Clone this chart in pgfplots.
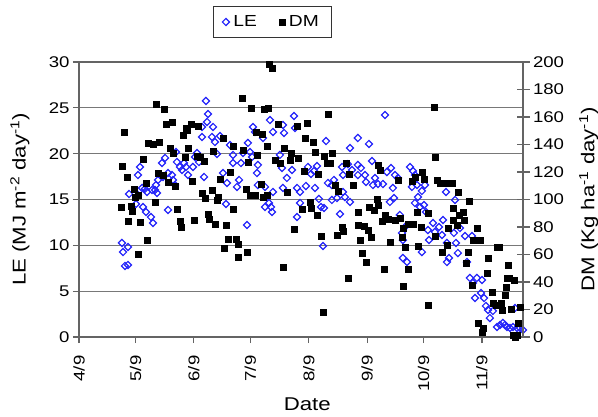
\documentclass[border=0pt]{standalone}
\usepackage{fontspec}
\setmainfont{Liberation Sans}[FakeStretch=1.2]
\usepackage{pgfplots}
\pgfplotsset{compat=1.18}
\definecolor{lecol}{RGB}{35,35,250}
\definecolor{gridc}{RGB}{120,120,120}
\definecolor{axc}{RGB}{100,100,100}
\begin{document}
\begin{tikzpicture}
\path[use as bounding box] (-79pt,-79pt) rectangle (519pt,337pt);
\begin{axis}[
  at={(0,0)}, anchor=south west,
  scale only axis, width=444pt, height=275pt,
  xmin=99, xmax=334.8, ymin=0, ymax=30,
  clip=false,
  axis line style={axc, line width=1.1pt},
  xtick={99,129,160,190,221,252,282,313},
  xticklabels={4/9,5/9,6/9,7/9,8/9,9/9,10/9,11/9},
  ytick={0,5,...,30},
  ymajorgrids, grid style={gridc, line width=1pt},
  tick align=outside, xtick pos=bottom, ytick pos=left,
  major tick length=6pt,
  tick style={axc, line width=1.1pt},
  ticklabel style={font=\fontsize{15.5}{16}\selectfont},
  /pgf/number format/assume math mode=true,
  xticklabel style={rotate=90, anchor=east},
  xticklabel shift=9pt,
  xlabel={Date},
  ylabel={LE (MJ m\textsuperscript{-2} day\textsuperscript{-1})},
  label style={font=\fontsize{18.5}{20}\selectfont},
  xlabel style={at={(axis description cs:0.514,-0.2455)}, anchor=center},
  ylabel style={at={(axis description cs:-0.133,0.5)}, anchor=center},
]
\addplot[only marks, mark=square, mark size=2.5pt, mark options={rotate=45, draw=lecol, line width=1.2pt, fill=white}] coordinates {
(121.8,10.26) (122.4,9.27) (125.0,9.82) (123.4,7.75) (125.0,7.86) (125.6,15.60)
(129.3,14.51) (130.3,15.49) (133.0,14.18) (134.6,13.64) (137.2,13.09) (138.3,12.44)
(131.4,18.55) (130.3,17.67) (132.5,16.26) (134.0,16.15) (135.1,15.82) (137.8,16.04)
(139.4,16.04) (140.4,15.71) (139.9,16.58) (141.0,17.13) (142.0,17.67) (143.6,17.46)
(144.7,19.53) (143.1,18.98) (146.3,13.86) (146.3,17.89) (148.4,17.67) (148.9,17.13)
(150.0,16.58) (150.5,20.18) (151.0,19.09) (152.6,18.55) (153.7,18.22) (154.8,18.98)
(155.8,18.55) (156.9,17.67) (159.5,18.55) (160.6,19.64) (161.7,20.07) (162.7,19.09)
(164.3,22.91) (165.4,17.46) (166.4,25.75) (167.5,24.33) (167.0,23.46) (169.6,21.82)
(170.2,22.91) (164.3,21.82) (171.2,21.27) (172.3,19.97) (173.9,21.93) (175.5,17.89)
(177.6,16.80) (177.1,14.51) (179.2,20.95) (180.8,19.86) (180.8,18.98) (182.9,16.37)
(184.0,17.13) (185.0,18.98) (186.1,20.07) (188.2,12.22) (188.7,21.17) (189.8,20.18)
(190.9,19.64) (191.4,22.91) (192.5,22.37) (194.0,18.77) (193.5,17.89) (194.0,16.58)
(196.7,21.71) (197.8,16.37) (197.8,14.18) (199.9,14.62) (201.0,14.18) (201.5,13.64)
(198.8,15.27) (200.4,23.67) (202.0,22.37) (202.0,15.82) (205.7,19.86) (206.8,18.44)
(207.3,23.13) (207.9,22.26) (207.3,16.26) (209.4,17.35) (212.1,18.22) (213.2,24.11)
(213.7,22.80) (214.8,16.26) (214.8,13.09) (216.4,15.82) (216.4,14.62) (219.5,16.47)
(220.6,18.55) (222.2,17.78) (223.8,18.11) (224.3,16.26) (225.4,18.66) (226.4,15.06)
(227.5,14.18) (228.6,9.93) (229.1,14.07) (230.2,21.38) (231.2,16.80) (233.3,16.58)
(233.3,14.95) (234.4,17.13) (236.0,15.16) (237.6,13.42) (238.7,18.55) (239.2,17.67)
(239.2,15.82) (240.2,15.27) (241.8,18.87) (242.9,14.73) (242.9,20.62) (244.0,18.22)
(247.1,21.71) (247.1,18.77) (247.1,17.67) (248.7,18.44) (250.9,17.67) (251.4,16.91)
(253.0,21.06) (254.6,19.20) (255.1,16.58) (256.2,17.35) (257.8,16.69) (260.4,16.69)
(261.5,24.22) (262.5,18.00) (264.7,18.44) (265.7,16.26) (266.3,15.16) (266.8,17.67)
(268.4,17.35) (264.1,14.73) (269.4,13.31) (270.5,11.35) (271.0,10.58) (271.0,8.62)
(273.2,8.18) (272.1,12.00) (274.8,18.55) (276.4,18.11) (277.4,17.67) (278.5,16.58)
(275.8,16.37) (277.4,14.62) (279.0,15.27) (280.1,14.18) (281.1,15.93) (281.1,9.27)
(282.2,14.40) (282.7,16.58) (283.3,13.64) (284.3,11.67) (284.9,10.58) (287.0,12.44)
(288.0,11.46) (290.2,12.00) (291.8,11.13) (292.3,12.76) (293.9,15.82) (294.4,10.26)
(294.4,8.18) (295.5,8.62) (298.1,11.35) (298.7,14.95) (299.2,10.26) (300.2,9.16)
(301.3,11.89) (304.0,11.02) (305.0,8.18) (306.6,6.44) (307.7,11.02) (308.2,5.89)
(309.3,4.25) (310.3,6.44) (312.5,4.80) (313.0,6.22) (314.1,4.25) (315.1,3.38)
(316.2,2.95) (317.2,2.07) (318.8,2.84) (321.0,1.09) (322.6,1.31) (324.1,1.53)
(325.2,1.31) (326.3,1.09) (327.9,0.98) (329.5,1.09) (330.5,3.16) (331.6,0.98)
(333.2,0.98) (334.8,0.76)
};
\end{axis}
\begin{axis}[
  at={(0,0)}, anchor=south west,
  scale only axis, width=444pt, height=275pt,
  xmin=99, xmax=334.8, ymin=0, ymax=200,
  clip=false,
  axis x line=none, axis y line*=right,
  axis line style={axc, line width=1.1pt},
  ytick={0,20,...,200},
  tick align=center, major tick length=13pt,
  tick style={axc, line width=1.1pt},
  ticklabel style={font=\fontsize{15.5}{16}\selectfont},
  /pgf/number format/assume math mode=true,
  ylabel={DM (Kg ha\textsuperscript{-1} day\textsuperscript{-1})},
  label style={font=\fontsize{18.5}{20}\selectfont},
  ylabel style={at={(axis description cs:1.148,0.5)}, anchor=center},
  legend style={at={(axis description cs:0.436,1.1455)}, anchor=center,
    legend columns=2, draw=black!80, line width=0.6pt,
    font=\fontsize{16}{17}\selectfont, inner xsep=9pt, inner ysep=7pt,
    nodes={inner xsep=4pt},
    /tikz/every even column/.append style={column sep=18pt}},
]
\addlegendimage{only marks, mark=square, mark size=2.5pt, mark options={rotate=45, draw=lecol, line width=1.2pt, fill=white}}
\addlegendentry{LE}
\addplot[only marks, mark=square*, mark size=3pt, mark options={draw=black, fill=black, line width=0.4pt}] coordinates {
(121.8,124.4) (122.9,149.1) (124.5,116.4) (128.2,107.6) (130.3,103.3) (128.7,101.8)
(121.3,94.5) (126.6,95.3) (127.1,91.6) (139.4,98.2) (125.0,84.4) (131.4,83.6)
(135.1,70.5) (130.3,60.4) (151.0,93.1) (152.6,84.4) (153.2,80.0) (139.9,169.5)
(144.1,165.8) (145.2,154.9) (148.4,156.4) (154.2,146.9) (155.8,152.0) (135.6,141.1)
(138.3,140.4) (141.5,141.8) (147.3,137.5) (148.9,133.8) (155.3,130.9) (133.0,129.5)
(141.0,119.3) (143.6,117.8) (146.3,112.7) (150.0,109.8) (134.6,112.0)
(185.6,173.8) (190.3,166.6) (197.2,165.8) (199.4,166.6) (199.9,198.6) (201.5,195.6)
(158.5,154.9) (162.2,153.5) (156.3,150.6) (175.5,144.7) (193.0,149.1) (196.2,147.6)
(180.8,138.9) (186.1,136.0) (193.5,132.4) (198.8,138.9) (156.9,137.5) (170.2,135.3)
(161.7,131.6) (163.3,130.9) (165.4,128.0) (188.7,127.3) (179.2,120.0) (159.0,113.5)
(173.9,114.9) (195.6,111.3) (187.7,107.6) (164.3,104.7) (169.6,106.9) (172.8,101.8)
(189.8,103.3) (192.5,103.3) (196.7,101.8) (165.9,101.1) (172.3,99.6) (180.8,93.1)
(160.1,85.1) (167.5,89.5) (168.0,85.8) (171.2,82.2) (177.1,81.5) (178.1,71.3)
(182.4,71.3) (176.0,64.7) (183.4,67.6) (188.2,61.8) (183.4,58.2)
(231.2,162.2) (204.7,154.9) (214.8,153.5) (220.1,155.6) (219.0,144.7) (223.3,141.8)
(207.9,137.5) (211.6,133.8) (224.3,134.5) (229.1,131.6) (233.3,133.8) (203.1,128.7)
(205.7,126.5) (211.0,128.7) (215.3,130.2) (230.7,126.5) (232.3,126.5) (218.5,120.7)
(225.9,118.5) (209.4,105.5) (234.9,110.5) (236.5,106.2) (198.8,103.3) (221.7,98.2)
(217.4,93.1) (222.2,93.8) (225.4,88.7) (213.2,78.5) (227.5,73.5) (238.7,80.0)
(239.2,77.1) (236.0,74.2) (207.3,50.9) (241.8,42.9) (228.6,18.2)
(240.8,126.5) (242.4,118.5) (244.5,110.5) (257.8,125.1) (258.8,121.5) (268.4,114.2)
(275.8,113.5) (281.1,120.0) (282.2,114.9) (277.4,116.4) (257.2,100.4) (257.8,96.0)
(253.0,94.5) (255.6,92.4) (247.1,90.9) (261.5,88.7) (263.1,85.8) (266.8,85.1)
(259.9,84.4) (269.4,86.5) (247.1,81.5) (250.3,80.7) (252.5,77.8) (254.1,72.7)
(248.2,70.5) (264.1,69.1) (273.7,82.2) (276.4,82.2) (280.6,80.0) (278.5,90.9)
(284.3,90.2) (272.1,65.5) (279.0,66.2) (249.3,61.1) (251.4,54.5) (261.0,49.5)
(273.7,49.5) (271.0,37.1) (284.3,23.3) (287.5,167.3) (288.0,130.9) (289.1,114.2)
(290.7,112.0) (292.3,112.0) (294.4,112.0) (297.1,112.0) (300.2,105.5) (306.1,98.9)
(270.5,72.7) (271.0,79.3) (288.0,73.5) (291.8,61.8) (294.4,66.9) (295.0,79.3)
(297.6,93.8) (297.6,85.1) (299.7,81.5) (300.8,88.7) (302.9,90.9) (303.4,85.1)
(305.6,61.8) (304.5,53.8) (307.7,37.8) (308.2,70.5) (310.3,79.3) (310.3,70.5)
(311.9,70.5) (310.9,10.2) (313.0,3.6) (313.5,6.5) (315.6,46.5) (316.2,57.5)
(318.3,32.7) (318.8,24.7) (320.4,23.3) (321.0,65.5) (322.0,65.5) (323.1,24.7)
(323.6,19.6) (325.2,30.5) (325.7,36.4) (326.3,42.9) (326.8,52.4) (327.3,42.9)
(328.4,20.4) (329.5,1.5) (330.5,0) (331.6,1.5) (332.1,10.2) (333.2,21.8) (330.0,41.5)
};
\addlegendentry{DM}
\end{axis}
\end{tikzpicture}
\end{document}
